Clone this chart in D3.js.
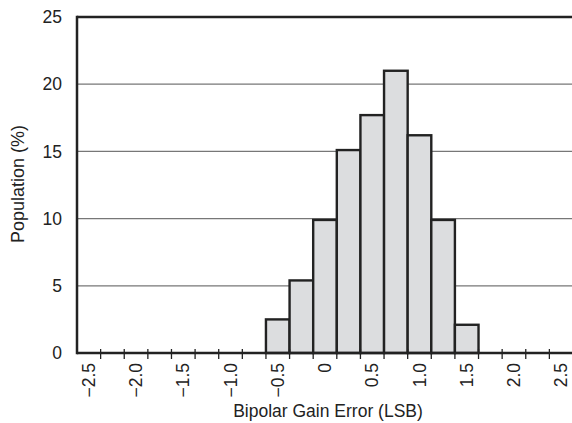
<!DOCTYPE html>
<html>
<head>
<meta charset="utf-8">
<script src="https://cdn.jsdelivr.net/npm/d3@7"></script>
<style>
  body { margin: 0; background: #fff; }
  svg { display: block; font-family: "Liberation Sans", Arial, sans-serif; }
</style>
</head>
<body>
<div class="chart"></div>
<script>
// histogram bins (centre of each 0.25 LSB bin) and population in %
const binCenters = [-0.5, -0.25, 0, 0.25, 0.5, 0.75, 1.0, 1.25, 1.5]
const population = [2.5, 5.4, 9.9, 15.1, 17.7, 21.0, 16.2, 9.9, 2.1]

const xTickValues = [-2.5, -2.0, -1.5, -1.0, -0.5, 0, 0.5, 1.0, 1.5, 2.0, 2.5]
const xTickLabels = ['\u22122.5', '\u22122.0', '\u22121.5', '\u22121.0', '\u22120.5', '0', '0.5', '1.0', '1.5', '2.0', '2.5']
const yTickValues = [0, 5, 10, 15, 20, 25]

const binWidth = 0.25
const width = 572
const height = 423
const ink = '#222'

const svg = d3.select('.chart')
    .append('svg')
    .attr('width', width)
    .attr('height', height)

const x = d3.scaleLinear()
    .domain([-2.625, 2.625])
    .range([77, 573])

const y = d3.scaleLinear()
    .domain([0, 25])
    .range([353, 17])

// grid lines
svg.append('g')
    .selectAll('line')
    .data(yTickValues.filter(v => v > 0 && v < 25))
    .enter()
    .append('line')
    .attr('x1', x(-2.625))
    .attr('x2', width)
    .attr('y1', d => y(d))
    .attr('y2', d => y(d))
    .attr('stroke', '#777')
    .attr('stroke-width', 1.2)

// bars
svg.append('g')
    .selectAll('rect')
    .data(binCenters)
    .enter()
    .append('rect')
    .attr('x', d => x(d - binWidth / 2))
    .attr('width', d => x(d + binWidth / 2) - x(d - binWidth / 2))
    .attr('y', (d, i) => y(population[i]))
    .attr('height', (d, i) => y(0) - y(population[i]))
    .attr('fill', '#dcdddf')
    .attr('stroke', ink)
    .attr('stroke-width', 2.4)

// bin edge ticks on the x axis
const edges = d3.range(1, 21).map(k => -2.625 + k * binWidth)
svg.append('g')
    .selectAll('line')
    .data(edges)
    .enter()
    .append('line')
    .attr('x1', d => x(d))
    .attr('x2', d => x(d))
    .attr('y1', y(0) - 4)
    .attr('y2', y(0) + 6)
    .attr('stroke', ink)
    .attr('stroke-width', 1.3)

// frame: left, top and bottom
const frame = svg.append('g').attr('stroke', ink).attr('stroke-width', 2.5)
frame.append('line')
    .attr('x1', x(-2.625)).attr('x2', x(-2.625))
    .attr('y1', y(25) - 1.25).attr('y2', y(0) + 1.25)
frame.append('line')
    .attr('x1', x(-2.625)).attr('x2', width)
    .attr('y1', y(25)).attr('y2', y(25))
frame.append('line')
    .attr('x1', x(-2.625)).attr('x2', width)
    .attr('y1', y(0)).attr('y2', y(0))

// y tick labels
svg.append('g')
    .selectAll('text')
    .data(yTickValues)
    .enter()
    .append('text')
    .attr('x', 62)
    .attr('y', d => y(d))
    .attr('dy', '0.35em')
    .attr('text-anchor', 'end')
    .attr('font-size', 17.5)
    .attr('fill', ink)
    .text(d => d)

// x tick labels, rotated
svg.append('g')
    .selectAll('text')
    .data(xTickValues)
    .enter()
    .append('text')
    .attr('transform', d => `translate(${x(d)},363) rotate(-90)`)
    .attr('dy', '0.35em')
    .attr('text-anchor', 'end')
    .attr('font-size', 17.5)
    .attr('fill', ink)
    .text((d, i) => xTickLabels[i])

// axis titles
svg.append('text')
    .attr('x', 328)
    .attr('y', 417)
    .attr('text-anchor', 'middle')
    .attr('font-size', 17.5)
    .attr('fill', ink)
    .text('Bipolar Gain Error (LSB)')

svg.append('text')
    .attr('transform', `translate(24,184) rotate(-90)`)
    .attr('text-anchor', 'middle')
    .attr('font-size', 18)
    .attr('fill', ink)
    .text('Population (%)')
</script>
</body>
</html>
